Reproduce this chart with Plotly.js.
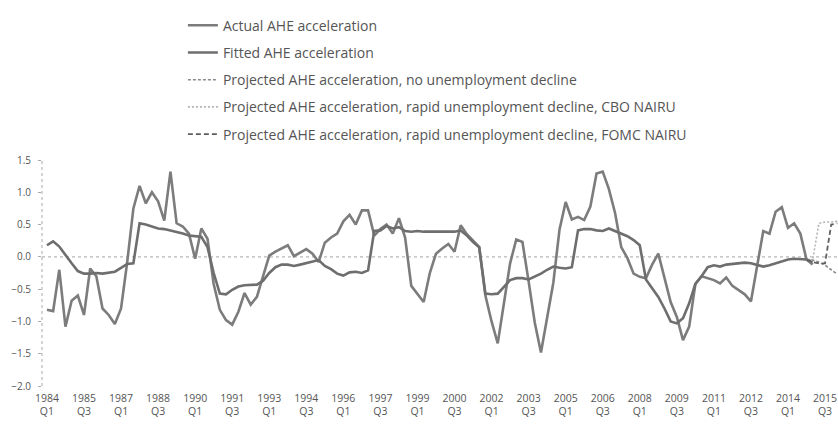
<!DOCTYPE html>
<html><head><meta charset="utf-8">
<script src="https://cdn.plot.ly/plotly-3.0.1.min.js"></script>
<style>html,body{margin:0;padding:0;background:#fff}</style>
</head><body><div id="chart" style="width:838px;height:424px"></div>
<script>
// Quarterly categories 1984 Q1 .. 2016 Q1
const startYear = 1984;
const quarterCount = 129;
const quarters = [];
for (let i = 0; i < quarterCount; i++) quarters.push((startYear + Math.floor(i / 4)) + ' Q' + (i % 4 + 1));

const actualAHE = [
 -0.82,-0.84,-0.20,-1.08,-0.68,-0.60,-0.90,-0.18,-0.30,-0.80,
 -0.90,-1.04,-0.80,-0.08, 0.75, 1.10, 0.83, 1.00, 0.86, 0.56,
  1.32, 0.52, 0.47, 0.36,-0.03, 0.44, 0.28,-0.42,-0.82,-0.98,
 -1.05,-0.85,-0.56,-0.74,-0.62,-0.30, 0.02, 0.08, 0.13, 0.18,
  0.01, 0.06, 0.12, 0.05,-0.08, 0.22, 0.30, 0.36, 0.55, 0.65,
  0.50, 0.72, 0.72, 0.33, 0.43, 0.50, 0.36, 0.60, 0.30,-0.45,
 -0.58,-0.70,-0.25, 0.05, 0.13, 0.20, 0.08, 0.49, 0.35, 0.25,
  0.15,-0.60,-1.00,-1.34,-0.74,-0.10, 0.27, 0.23,-0.38,-1.02,
 -1.48,-0.95,-0.40, 0.42, 0.85, 0.58, 0.62, 0.57, 0.78, 1.29,
  1.32, 1.05, 0.68, 0.15,-0.02,-0.26,-0.31,-0.33,-0.12, 0.05,
 -0.32,-0.70,-0.93,-1.29,-1.08,-0.42,-0.30,-0.33,-0.36,-0.41,
 -0.32,-0.45,-0.52,-0.58,-0.69,-0.15, 0.40, 0.36, 0.70, 0.77,
  0.45, 0.52, 0.36,-0.04,-0.12
];
const fittedAHE = [
  0.18, 0.24, 0.16, 0.02,-0.10,-0.22,-0.26,-0.26,-0.25,-0.26,
 -0.25,-0.23,-0.17,-0.11,-0.10, 0.52, 0.50, 0.47, 0.44, 0.43,
  0.41, 0.39, 0.36, 0.33, 0.32, 0.31, 0.15,-0.25,-0.57,-0.58,
 -0.51,-0.46,-0.44,-0.44,-0.43,-0.37,-0.25,-0.16,-0.12,-0.12,
 -0.14,-0.12,-0.10,-0.08,-0.05,-0.14,-0.19,-0.26,-0.29,-0.24,
 -0.23,-0.25,-0.21, 0.40, 0.41, 0.48, 0.44, 0.46, 0.40, 0.39,
  0.40, 0.39, 0.39, 0.40, 0.40, 0.39, 0.39, 0.41, 0.33, 0.23,
  0.15,-0.57,-0.58,-0.57,-0.46,-0.36,-0.33,-0.33,-0.35,-0.31,
 -0.26,-0.20,-0.15,-0.17,-0.18,-0.16, 0.41, 0.43, 0.43, 0.41,
  0.40, 0.44, 0.40, 0.36, 0.32, 0.26, 0.18,-0.35,-0.48,-0.62,
 -0.80,-1.00,-1.03,-0.95,-0.72,-0.42,-0.30,-0.16,-0.13,-0.15,
 -0.12,-0.11,-0.09,-0.09,-0.10,-0.12,-0.15,-0.13,-0.10,-0.07,
 -0.04,-0.03,-0.03,-0.04,-0.08
];
const projStart = 123;
const projNoDecline = [-0.04,-0.05,-0.08,-0.13,-0.20,-0.27];
const projCBO       = [-0.04,-0.05, 0.52, 0.54, 0.54, 0.55];
const projFOMC      = [-0.04,-0.08,-0.10,-0.10, 0.50, 0.52];

const tickLabels = ['1984<br>Q1','1985<br>Q3','1987<br>Q1','1988<br>Q3','1990<br>Q1','1991<br>Q3','1993<br>Q1','1994<br>Q3',
 '1996<br>Q1','1997<br>Q3','1999<br>Q1','2000<br>Q3','2002<br>Q1','2003<br>Q3','2005<br>Q1','2006<br>Q3','2008<br>Q1',
 '2009<br>Q3','2011<br>Q1','2012<br>Q3','2014<br>Q1','2015<br>Q3'];
const tickCats = tickLabels.map((t, i) => quarters[i * 6]);

const FONT = 'Open Sans, Liberation Sans, sans-serif';
const NARROW = 'Liberation Sans Narrow, Open Sans, sans-serif';
const projX = quarters.slice(projStart, projStart + projNoDecline.length);

const traces = [
 {x: quarters.slice(0, actualAHE.length), y: actualAHE, name: 'Actual AHE acceleration', mode: 'lines',
  line: {color: '#7c7c7c', width: 2.6}, legendgroup: 'a'},
 {x: quarters.slice(0, fittedAHE.length), y: fittedAHE, name: 'Fitted AHE acceleration', mode: 'lines',
  line: {color: '#6e6e6e', width: 2.6}, legendgroup: 'b'},
 {x: projX, y: projNoDecline, name: 'Projected AHE acceleration, no unemployment decline', mode: 'lines',
  line: {color: '#8a8a8a', width: 1.6, dash: '3px,2px'}, legendgroup: 'c'},
 {x: projX, y: projCBO, name: 'Projected AHE acceleration, rapid unemployment decline, CBO NAIRU', mode: 'lines',
  line: {color: '#b4b4b4', width: 1.6, dash: '2px,2px'}, legendgroup: 'd'},
 {x: projX, y: projFOMC, name: 'Projected AHE acceleration, rapid unemployment decline, FOMC NAIRU', mode: 'lines',
  line: {color: '#606060', width: 1.8, dash: '5px,3px'}, legendgroup: 'e'}
];

const layout = {
 width: 838, height: 424,
 margin: {l: 42, r: 0, t: 160, b: 38, autoexpand: false},
 paper_bgcolor: '#fff', plot_bgcolor: '#fff',
 font: {family: FONT, color: '#555', size: 10},
 showlegend: true,
 legend: {x: 0.177, y: 1.665, xanchor: 'left', yanchor: 'top',
  font: {family: FONT, size: 14, color: '#555'}, traceorder: 'grouped', tracegroupgap: 6,
  bgcolor: 'rgba(0,0,0,0)'},
 xaxis: {type: 'category', categoryorder: 'array', categoryarray: quarters, range: [-0.8, 128.1],
  tickmode: 'array', tickvals: tickCats, ticktext: tickLabels, ticks: '', showline: false,
  showgrid: false, zeroline: false, tickfont: {family: NARROW, size: 10.5, color: '#555'}, tickangle: 0,
  ticklabelstandoff: 4},
 xaxis2: {overlaying: 'x', anchor: 'free', position: 2 / 3.5, range: [-0.8, 128.1], type: 'linear',
  tickmode: 'linear', tick0: 5.5, dtick: 6, ticks: 'outside', ticklen: 3, tickcolor: '#bbb',
  showticklabels: false, showline: false, showgrid: false, zeroline: false},
 yaxis: {range: [-2, 1.5], tickmode: 'linear', tick0: -2, dtick: 0.5, tickformat: '.1f',
  ticks: 'outside', ticklen: 3, tickcolor: '#aaa', showgrid: false, zeroline: false, showline: false,
  tickfont: {family: FONT, size: 10, color: '#555'}, ticklabelstandoff: 5},
 shapes: [
  {type: 'line', xref: 'paper', yref: 'y', x0: 0, x1: 1, y0: 0, y1: 0, line: {color: '#b8b8b8', width: 1.2, dash: 'dot'}, layer: 'below'},
  {type: 'line', xref: 'paper', yref: 'y', x0: 0, x1: 0, y0: -2, y1: 1.5, line: {color: '#b8b8b8', width: 1.2, dash: 'dot'}, layer: 'below'}
 ]
};
Plotly.newPlot('chart', traces, layout, {displayModeBar: false, staticPlot: true});
</script></body></html>
